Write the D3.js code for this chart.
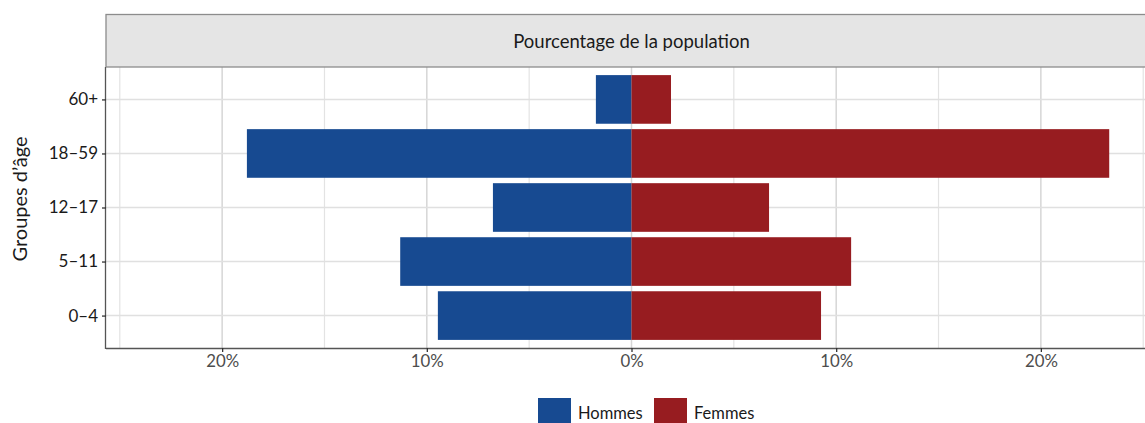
<!DOCTYPE html>
<html>
<head>
<meta charset="utf-8">
<script src="https://cdn.jsdelivr.net/npm/d3@7"></script>
<style>
  html, body { margin: 0; padding: 0; background: #fff; }
  svg { display: block; font-family: Lato, "Open Sans", sans-serif; }
</style>
</head>
<body>
<svg id="chart" width="1145" height="423"></svg>
<script>
// Age groups, bottom to top
const ageGroups = ["0–4", "5–11", "12–17", "18–59", "60+"];
// Share of total population (%) by sex
const hommes = [9.46, 11.30, 6.77, 18.79, 1.74];
const femmes = [9.26, 10.73, 6.72, 23.34, 1.93];
const seriesNames = ["Hommes", "Femmes"];
const seriesColors = ["#174a91", "#971c20"];
const xTicks = [-20, -10, 0, 10, 20];
const xMinorTicks = [-25, -15, -5, 5, 15, 25];
const stripTitle = "Pourcentage de la population";
const yTitle = "Groupes d’âge";

const svg = d3.select("#chart");
const W = 1145;
const FONT = "Lato, 'Open Sans', sans-serif";

const panel = { left: 106, top: 67, bottom: 348, right: 1157 };

// Symmetric limits around zero, with 5% expansion
const lim = d3.max([...hommes, ...femmes]);
const ext = lim + 2 * lim * 0.05;
const x = d3.scaleLinear().domain([-ext, ext]).range([panel.left, panel.right]);
const y = d3.scalePoint().domain(ageGroups).range([panel.bottom, panel.top]).padding(0.6);
const barH = y.step() * 0.9;

// Panel background
svg.append("rect")
  .attr("x", panel.left).attr("y", panel.top)
  .attr("width", panel.right - panel.left).attr("height", panel.bottom - panel.top)
  .attr("fill", "#fff");

// Grid lines
const grid = svg.append("g");
grid.selectAll("line.minor").data(xMinorTicks).join("line")
  .attr("x1", d => x(d)).attr("x2", d => x(d))
  .attr("y1", panel.top).attr("y2", panel.bottom)
  .attr("stroke", "#e3e3e3").attr("stroke-width", 1.2);
grid.selectAll("line.major").data(xTicks).join("line")
  .attr("x1", d => x(d)).attr("x2", d => x(d))
  .attr("y1", panel.top).attr("y2", panel.bottom)
  .attr("stroke", "#d6d6d6").attr("stroke-width", 1.5);
grid.selectAll("line.hy").data(ageGroups).join("line")
  .attr("x1", panel.left).attr("x2", panel.right)
  .attr("y1", d => y(d)).attr("y2", d => y(d))
  .attr("stroke", "#e0e0e0").attr("stroke-width", 1.5);

// Bars
const rows = ageGroups.map((g, i) => ({ g, h: hommes[i], f: femmes[i] }));
const bars = svg.append("g");
bars.selectAll("rect.h").data(rows).join("rect")
  .attr("x", d => x(-d.h)).attr("width", d => x(0) - x(-d.h))
  .attr("y", d => y(d.g) - barH / 2).attr("height", barH)
  .attr("fill", seriesColors[0]);
bars.selectAll("rect.f").data(rows).join("rect")
  .attr("x", x(0)).attr("width", d => x(d.f) - x(0))
  .attr("y", d => y(d.g) - barH / 2).attr("height", barH)
  .attr("fill", seriesColors[1]);

// Facet strip
svg.append("rect")
  .attr("x", panel.left).attr("y", 14.5)
  .attr("width", panel.right - panel.left).attr("height", panel.top - 14.5)
  .attr("fill", "#e5e5e5").attr("stroke", "#8c8c8c").attr("stroke-width", 1.3);
svg.append("text")
  .attr("x", x(0)).attr("y", 41)
  .attr("text-anchor", "middle").attr("dominant-baseline", "central")
  .attr("font-size", 18.5).attr("fill", "#1a1a1a")
  .text(stripTitle);

// Axes
const xAxis = d3.axisBottom(x).tickValues(xTicks)
  .tickFormat(d => Math.abs(d) + "%").tickSize(4).tickPadding(3);
const gx = svg.append("g").attr("transform", `translate(0,${panel.bottom})`).call(xAxis);
gx.select(".domain").attr("stroke", "#555").attr("stroke-width", 1.3)
  .attr("d", `M${panel.left},0.5H${W + 20}`);
gx.selectAll(".tick line").attr("stroke", "#333").attr("stroke-width", 1.3);
gx.selectAll(".tick text").attr("font-size", 16.8).attr("fill", "#4d4d4d")
  .attr("font-family", FONT);

const yAxis = d3.axisLeft(y).tickSize(4).tickPadding(4);
const gy = svg.append("g").attr("transform", `translate(${panel.left},0)`).call(yAxis);
gy.select(".domain").attr("stroke", "#555").attr("stroke-width", 1.3)
  .attr("d", `M-0.5,${panel.top}V${panel.bottom + 1}`);
gy.selectAll(".tick line").attr("stroke", "#333").attr("stroke-width", 1.3);
gy.selectAll(".tick text").attr("font-size", 17).attr("fill", "#1a1a1a")
  .attr("font-family", FONT);

// Y axis title
svg.append("text")
  .attr("transform", `translate(27,199) rotate(-90)`)
  .attr("text-anchor", "middle")
  .attr("font-size", 20).attr("fill", "#1a1a1a")
  .text(yTitle);

// Legend
const legend = svg.append("g");
const legendItems = [
  { name: seriesNames[0], color: seriesColors[0], x: 538 },
  { name: seriesNames[1], color: seriesColors[1], x: 654 }
];
legendItems.forEach(it => {
  legend.append("rect").attr("x", it.x).attr("y", 398).attr("width", 33).attr("height", 33)
    .attr("fill", it.color);
  legend.append("text").attr("x", it.x + 40).attr("y", 413)
    .attr("dominant-baseline", "central")
    .attr("font-size", 16.5).attr("fill", "#1a1a1a").text(it.name);
});
</script>
</body>
</html>
